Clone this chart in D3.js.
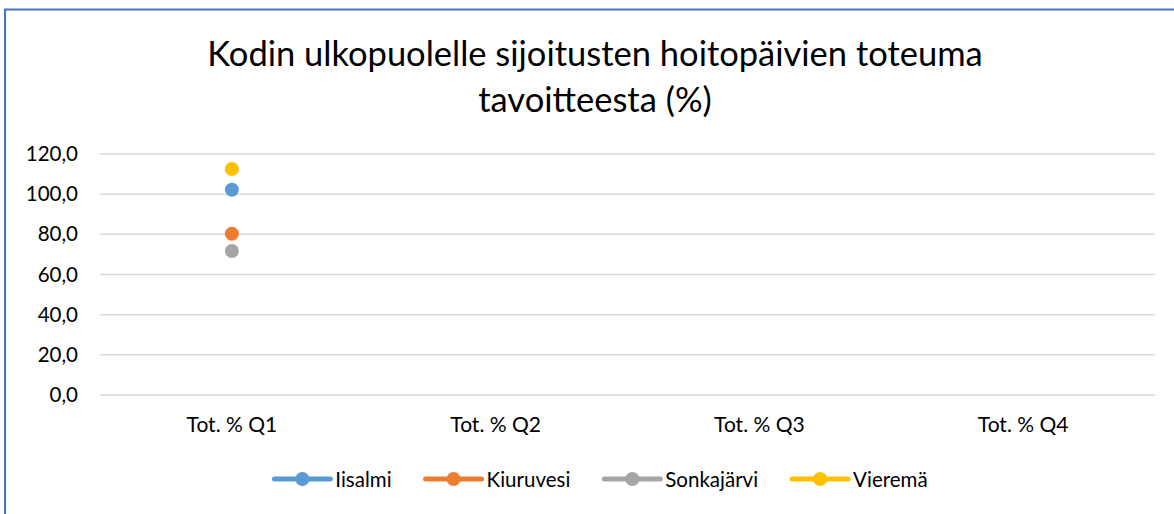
<!DOCTYPE html>
<html>
<head>
<meta charset="utf-8">
<script src="https://cdn.jsdelivr.net/npm/d3@7"></script>
<style>
  body { margin: 0; background: #fff; }
  svg { display: block; font-family: Lato, 'Open Sans', sans-serif; }
</style>
</head>
<body>
<svg id="chart" width="1174" height="514"></svg>
<script>
const categories = ['Tot. % Q1', 'Tot. % Q2', 'Tot. % Q3', 'Tot. % Q4'];
const seriesNames = ['Iisalmi', 'Kiuruvesi', 'Sonkajärvi', 'Vieremä'];
const seriesColors = ['#5b9bd5', '#ed7d31', '#a5a5a5', '#ffc000'];
// only Q1 has values
const iisalmi = [102.2, null, null, null];
const kiuruvesi = [80.3, null, null, null];
const sonkajarvi = [71.7, null, null, null];
const vierema = [112.5, null, null, null];
const yTicks = [0, 20, 40, 60, 80, 100, 120];

const seriesValues = [iisalmi, kiuruvesi, sonkajarvi, vierema];

const svg = d3.select('#chart');

// chart frame (top and left edges visible)
svg.append('line').attr('x1', 4).attr('x2', 1174).attr('y1', 9.5).attr('y2', 9.5)
  .attr('stroke', '#4472c4').attr('stroke-width', 2);
svg.append('line').attr('x1', 5).attr('x2', 5).attr('y1', 9).attr('y2', 514)
  .attr('stroke', '#4472c4').attr('stroke-width', 2);

svg.append('text')
  .attr('x', 595).attr('y', 66)
  .attr('text-anchor', 'middle')
  .attr('font-size', 34.5)
  .attr('fill', '#000')
  .text('Kodin ulkopuolelle sijoitusten hoitopäivien toteuma');
svg.append('text')
  .attr('x', 595).attr('y', 112)
  .attr('text-anchor', 'middle')
  .attr('font-size', 34.5)
  .attr('fill', '#000')
  .text('tavoitteesta (%)');

const x = d3.scaleBand().domain(categories).range([100, 1155]);
const y = d3.scaleLinear().domain([0, 120]).range([395, 154]);

// gridlines
svg.append('g')
  .selectAll('line')
  .data(yTicks)
  .enter()
  .append('line')
  .attr('x1', 100).attr('x2', 1155)
  .attr('y1', (d) => y(d)).attr('y2', (d) => y(d))
  .attr('stroke', '#d9d9d9').attr('stroke-width', 1.5);

const yAxis = svg.append('g')
  .attr('transform', 'translate(100,0)')
  .call(d3.axisLeft(y).tickValues(yTicks).tickSize(0).tickPadding(22)
    .tickFormat((d) => d3.format('.1f')(d).replace('.', ',')));
yAxis.select('.domain').remove();
yAxis.selectAll('text').attr('font-size', 20.5).attr('fill', '#000')
  .attr('font-family', 'Lato, sans-serif');

const xAxis = svg.append('g')
  .attr('transform', 'translate(0,395)')
  .call(d3.axisBottom(x).tickSize(0).tickPadding(22));
xAxis.select('.domain').remove();
xAxis.selectAll('text').attr('font-size', 21).attr('fill', '#000')
  .attr('font-family', 'Lato, sans-serif');

// points
seriesValues.forEach((vals, i) => {
  svg.append('g')
    .selectAll('circle')
    .data(vals.map((v, j) => ({ cat: categories[j], v: v })).filter((d) => d.v !== null))
    .enter()
    .append('circle')
    .attr('cx', (d) => x(d.cat) + x.bandwidth() / 2)
    .attr('cy', (d) => y(d.v))
    .attr('r', 7)
    .attr('fill', seriesColors[i]);
});

// legend, laid out from text widths and centred
const legend = svg.append('g');
const items = legend.selectAll('g')
  .data(seriesNames)
  .enter()
  .append('g');
items.append('line')
  .attr('x1', 0).attr('x2', 56)
  .attr('stroke', (d, i) => seriesColors[i])
  .attr('stroke-width', 5).attr('stroke-linecap', 'round');
items.append('circle')
  .attr('cx', 28).attr('r', 7)
  .attr('fill', (d, i) => seriesColors[i]);
items.append('text')
  .attr('x', 61).attr('y', 8)
  .attr('font-size', 20.5).attr('fill', '#000')
  .text((d) => d);

let offset = 0;
const widths = [];
items.each(function () {
  widths.push(61 + d3.select(this).select('text').node().getComputedTextLength());
});
const total = d3.sum(widths) + 34 * (widths.length - 1);
let start = 601 - total / 2;
items.attr('transform', (d, i) => {
  const tx = start + offset;
  offset += widths[i] + 34;
  return 'translate(' + tx + ',479)';
});
</script>
</body>
</html>
